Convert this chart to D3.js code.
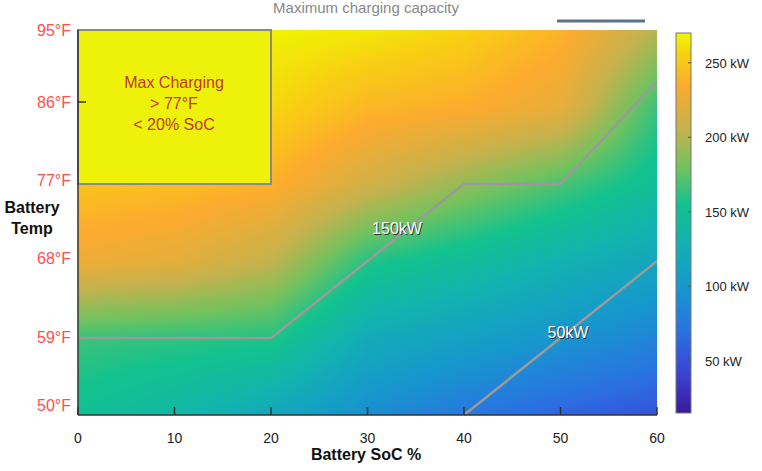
<!DOCTYPE html>
<html><head><meta charset="utf-8">
<script src="https://cdn.jsdelivr.net/npm/d3@7"></script>
<style>body{margin:0;background:#fff;font-family:Helvetica,Arial,"Liberation Sans",sans-serif}</style>
</head><body>
<svg id="chart" width="762" height="471"></svg>
<script>
// Battery SoC (%) columns and temperature (°F) rows of the charging grid
const socValues = [0, 10, 20, 30, 40, 50, 60];
const tempValues = [95, 86, 77, 68, 59, 50];
// kW, one row per temperature (top to bottom)
const powerGrid = [
  [270, 270, 268, 264, 256, 240, 200],
  [270, 266, 258, 242, 236, 224, 165],
  [248, 245, 238, 212, 190, 170, 148],
  [228, 222, 205, 160, 146, 130, 116],
  [166, 163, 160, 122, 110, 98, 84],
  [150, 138, 118, 92, 75, 62, 52]
];
const xTicks = [0, 10, 20, 30, 40, 50, 60];
const yTicks = [95, 86, 77, 68, 59, 50];
const colorTicks = [50, 100, 150, 200, 250];
const line150 = [[0, 59], [20, 59], [40, 77], [50, 77], [60, 89]];
const line50 = [[40, 50], [60, 68]];
const maxBox = {soc: [0, 20], temp: [77, 95]};
// colormap stops
const colorStops = [15, 40, 70, 100, 130, 155, 180, 205, 235, 255, 270];
const colorHex = ['#3a1a9a', '#3b40d4', '#2a72e2', '#1698cc', '#12b2b0', '#12c28e', '#72c25e', '#c4b24e', '#fcab2e', '#f8d012', '#eef800'];

const svg = d3.select('#chart');
const x = d3.scaleLinear().domain([0, 60]).range([78, 657]);
const y = d3.scaleLinear().domain([50, 95]).range([415, 30]);
const color = d3.scaleLinear().domain(colorStops).range(colorHex).interpolate(d3.interpolateRgb).clamp(true);

// heatmap, drawn pixel by pixel with bilinear blending of the grid
const W = Math.round(x(60) - x(0)), H = Math.round(y(50) - y(95));
const cv = document.createElement('canvas');
cv.width = W; cv.height = H;
const cx = cv.getContext('2d');
const img = cx.createImageData(W, H);
const gx = d3.scaleLinear().domain([0, W - 1]).range([0, socValues.length - 1]);
const gy = d3.scaleLinear().domain([0, H - 1]).range([0, tempValues.length - 1]);
for (let py = 0; py < H; py++) {
  const fy = gy(py), j = Math.min(Math.floor(fy), tempValues.length - 2), ty = fy - j;
  for (let px = 0; px < W; px++) {
    const fx = gx(px), i = Math.min(Math.floor(fx), socValues.length - 2), tx = fx - i;
    const v = (powerGrid[j][i] * (1 - tx) + powerGrid[j][i + 1] * tx) * (1 - ty)
            + (powerGrid[j + 1][i] * (1 - tx) + powerGrid[j + 1][i + 1] * tx) * ty;
    const c = d3.rgb(color(v)), k = (py * W + px) * 4;
    img.data[k] = c.r; img.data[k + 1] = c.g; img.data[k + 2] = c.b; img.data[k + 3] = 255;
  }
}
cx.putImageData(img, 0, 0);
svg.append('image').attr('href', cv.toDataURL())
  .attr('x', x(0)).attr('y', y(95)).attr('width', W).attr('height', H).attr('preserveAspectRatio', 'none');

// max charging box
svg.append('rect').attr('x', x(maxBox.soc[0])).attr('y', y(maxBox.temp[1]))
  .attr('width', x(maxBox.soc[1]) - x(maxBox.soc[0])).attr('height', y(maxBox.temp[0]) - y(maxBox.temp[1]))
  .attr('fill', '#eef20a').attr('stroke', '#8a8a8a').attr('stroke-width', 2);
svg.append('text').attr('x', 174).attr('y', 88).attr('text-anchor', 'middle')
  .attr('fill', '#c0392b').attr('font-size', 16)
  .selectAll('tspan').data(['Max Charging', '> 77°F', '< 20% SoC']).join('tspan')
  .attr('x', 174).attr('dy', (d, i) => i ? 21 : 0).text(d => d);

// contour lines
const line = d3.line().x(d => x(d[0])).y(d => y(d[1]));
[line150, line50].forEach(l => svg.append('path').attr('d', line(l))
  .attr('fill', 'none').attr('stroke', '#9a9a9a').attr('stroke-width', 2.5));
[['150kW', 397, 234], ['50kW', 568, 338]].forEach(([t, px, py]) => {
  svg.append('text').attr('x', px + 1).attr('y', py + 1).attr('text-anchor', 'middle').attr('font-size', 16).attr('fill', '#333').text(t);
  svg.append('text').attr('x', px).attr('y', py).attr('text-anchor', 'middle').attr('font-size', 16).attr('fill', '#fff').text(t);
});

// axes
svg.append('line').attr('x1', x(0)).attr('x2', x(0)).attr('y1', y(95)).attr('y2', y(50)).attr('stroke', '#333').attr('stroke-width', 1.5);
svg.append('line').attr('x1', x(0)).attr('x2', x(60)).attr('y1', y(50)).attr('y2', y(50)).attr('stroke', '#333').attr('stroke-width', 1.5);
svg.selectAll('.xt').data(xTicks).join('line').attr('x1', d => x(d)).attr('x2', d => x(d))
  .attr('y1', y(50)).attr('y2', y(50) - 8).attr('stroke', '#333').attr('stroke-width', 1.5);
svg.selectAll('.xl').data(xTicks).join('text').attr('x', d => x(d)).attr('y', 443)
  .attr('text-anchor', 'middle').attr('font-size', 14).attr('fill', '#222').text(d => d);
svg.selectAll('.yt').data([86]).join('line').attr('x1', x(0)).attr('x2', x(0) + 8)
  .attr('y1', 102).attr('y2', 102).attr('stroke', '#333').attr('stroke-width', 1.5);
const yLabelPos = {95: 30, 86: 102, 77: 180, 68: 258, 59: 337, 50: 405};
svg.selectAll('.yl').data(yTicks).join('text').attr('x', 71).attr('y', d => yLabelPos[d] + 6)
  .attr('text-anchor', 'end').attr('font-size', 16).attr('fill', '#ff4f4f').text(d => d + '°F');

svg.append('text').attr('x', 366).attr('y', 460).attr('text-anchor', 'middle')
  .attr('font-size', 16).attr('font-weight', 'bold').attr('fill', '#111').text('Battery SoC %');
svg.append('text').attr('x', 32).attr('y', 213).attr('text-anchor', 'middle')
  .attr('font-size', 16).attr('font-weight', 'bold').attr('fill', '#111').text('Battery');
svg.append('text').attr('x', 32).attr('y', 234).attr('text-anchor', 'middle')
  .attr('font-size', 16).attr('font-weight', 'bold').attr('fill', '#111').text('Temp');

// title and decoration
svg.append('text').attr('x', 366).attr('y', 13).attr('text-anchor', 'middle')
  .attr('font-size', 15).attr('fill', '#888').text('Maximum charging capacity');
svg.append('line').attr('x1', 557).attr('x2', 645).attr('y1', 21).attr('y2', 21).attr('stroke', '#5a7386').attr('stroke-width', 3);

// colorbar
const cy = d3.scaleLinear().domain([15, 270]).range([413, 33]);
const grad = svg.append('defs').append('linearGradient').attr('id', 'cb').attr('x1', 0).attr('x2', 0).attr('y1', 1).attr('y2', 0);
colorStops.forEach((s, i) => grad.append('stop').attr('offset', (s - 15) / 255).attr('stop-color', colorHex[i]));
svg.append('rect').attr('x', 676).attr('y', 33).attr('width', 15).attr('height', 380)
  .attr('fill', 'url(#cb)').attr('stroke', '#777').attr('stroke-width', 1);
svg.selectAll('.ct').data(colorTicks).join('line').attr('x1', 688).attr('x2', 691)
  .attr('y1', d => cy(d)).attr('y2', d => cy(d)).attr('stroke', '#555');
svg.selectAll('.cl').data(colorTicks).join('text').attr('x', 705).attr('y', d => cy(d) + 5)
  .attr('font-size', 13).attr('fill', '#222').text(d => d + ' kW');
</script>
</body></html>
